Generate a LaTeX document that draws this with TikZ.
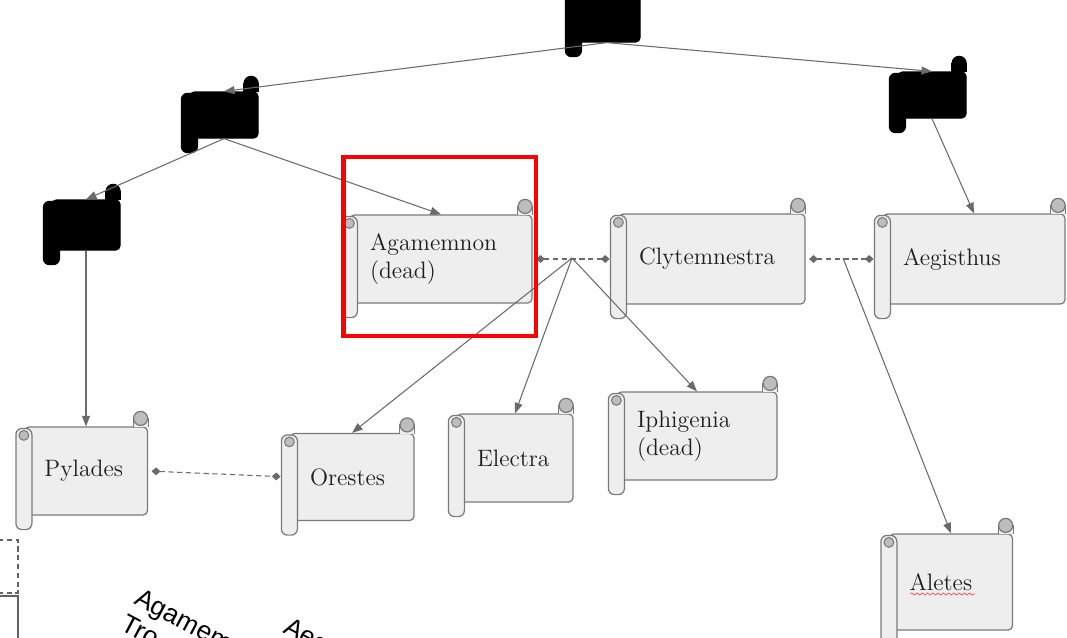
\documentclass[tikz,border=0pt]{standalone}
\usepackage{fontspec}
\usetikzlibrary{arrows.meta,decorations.pathmorphing}
\newfontfamily\tagfont{Liberation Sans}
\definecolor{scrollfill}{HTML}{EEEEEE}
\definecolor{scrollline}{HTML}{7A7A7A}
\definecolor{curlfill}{HTML}{BDBDBD}
\definecolor{linegray}{HTML}{6A6A6A}
\definecolor{textdark}{HTML}{1E1E1E}
\definecolor{markred}{HTML}{FF0000}
\tikzstyle{person} = [draw=scrollline, fill=scrollfill, rounded corners=2.5pt, line width=0.7pt, inner xsep=0pt, inner ysep=0pt, align=left, text=textdark, font=\fontsize{13.5}{16}\selectfont]
\tikzstyle{hidden} = [person, draw=black, fill=black]
\tikzstyle{child} = [draw=linegray, line width=0.6pt, -{Triangle[length=6pt,width=4.5pt]}]
\tikzstyle{couple} = [draw=linegray, line width=0.6pt, dash pattern=on 3pt off 2pt, {Diamond[length=5pt,width=4.5pt]}-{Diamond[length=5pt,width=4.5pt]}]
\tikzstyle{tag} = [inner sep=0pt, text=black, font=\tagfont\fontsize{15}{16}\selectfont]
\tikzset{scrollsize/.style 2 args={minimum width=#1*0.02cm, minimum height=#2*0.02cm, text width=#1*0.02cm-0.8cm}}
% rolled edges of a scroll: node, fill, line, curl
\newcommand{\rolls}[4]{%
  \filldraw[draw=#3, fill=#2, line width=0.7pt] ([shift={(-15,1)}]#1.north east) -- ([shift={(-15,-8)}]#1.north east) -- ([shift={(0,-8)}]#1.north east) -- ([shift={(0,1)}]#1.north east);
  \filldraw[draw=#3, fill=#4, line width=0.7pt] ([shift={(-7.5,-8)}]#1.north east) circle[radius=4pt];
  \filldraw[draw=#3, fill=#2, line width=0.7pt, rounded corners=3.5pt] ([shift={(-8,2)}]#1.north west) rectangle ([shift={(8,14)}]#1.south west);
  \filldraw[draw=#3, fill=#4, line width=0.6pt] ([shift={(0,9)}]#1.north west) circle[radius=2.8pt];
}

\begin{document}
\begin{tikzpicture}[x=0.02cm, y=-0.02cm]
    \useasboundingbox (0,0) rectangle (1067,637);
    \clip (0,0) rectangle (1067,637);
    \draw (607,16)  node[hidden, scrollsize={66}{52}] (T) {};
    \draw (224,115) node[hidden, scrollsize={68}{46}] (B2) {};
    \draw (86,225)  node[hidden, scrollsize={68}{50}] (B3) {};
    \draw (932,95)  node[hidden, scrollsize={68}{46}] (B4) {};
    \draw (441,259) node[person, scrollsize={182}{88}] (aga) {Agamemnon\\(dead)};
    \draw (712,259) node[person, scrollsize={186}{90}] (cly) {Clytemnestra};
    \draw (974,259) node[person, scrollsize={182}{90}] (aeg) {Aegisthus};
    \draw (86,471)  node[person, scrollsize={123}{88}] (pyl) {Pylades};
    \draw (352,477) node[person, scrollsize={124}{87}] (ore) {Orestes};
    \draw (515,458) node[person, scrollsize={116}{88}] (ele) {Electra};
    \draw (697,436) node[person, scrollsize={160}{88}] (iph) {Iphigenia\\(dead)};
    \draw (951,582) node[person, scrollsize={123}{96}] (ale) {Aletes};
    \rolls{T}{black}{black}{black}
    \rolls{B2}{black}{black}{black}
    \rolls{B3}{black}{black}{black}
    \rolls{B4}{black}{black}{black}
    \rolls{aga}{scrollfill}{scrollline}{curlfill}
    \rolls{cly}{scrollfill}{scrollline}{curlfill}
    \rolls{aeg}{scrollfill}{scrollline}{curlfill}
    \rolls{pyl}{scrollfill}{scrollline}{curlfill}
    \rolls{ore}{scrollfill}{scrollline}{curlfill}
    \rolls{ele}{scrollfill}{scrollline}{curlfill}
    \rolls{iph}{scrollfill}{scrollline}{curlfill}
    \rolls{ale}{scrollfill}{scrollline}{curlfill}
    \draw[red!70, line width=0.4pt, decorate, decoration={snake, amplitude=0.6pt, segment length=3pt}] ([shift={(-41,12)}]ale.center) -- ([shift={(24,12)}]ale.center);
    \coordinate (m1) at (572,258);
    \coordinate (m2) at (843,258);
    \draw[child] (T.south) -- (B2.north);
    \draw[child] (T.south) -- (B4.north);
    \draw[child] (B2.south) -- (B3.north);
    \draw[child] (B2.south) -- (aga.north);
    \draw[child] (B3.south) -- (pyl.north);
    \draw[child] (B4.south) -- (aeg.north);
    \draw[couple, shorten <=2pt, shorten >=5pt] (aga.east) -- (cly.west);
    \draw[couple, shorten <=2pt, shorten >=5pt] (cly.east) -- (aeg.west);
    \draw[couple, shorten <=2pt, shorten >=5pt] (pyl.east) -- (ore.west);
    \draw[child] (m1) -- (ore.north);
    \draw[child] (m1) -- (ele.north);
    \draw[child] (m1) -- (iph.north);
    \draw[child] (m2) -- (ale.north);
    % highlight
    \draw[markred, line width=2.3pt] (343.5,157) rectangle (536,336);
    % cut-off parts at the bottom left
    \draw[scrollline!80!black, line width=0.6pt, dash pattern=on 3pt off 2pt] (-2,540) -- (18,540) -- (18,593) -- (-2,593);
    \draw[scrollline!80!black, line width=0.6pt] (-2,596) -- (18,596) -- (18,645);
    \node[tag, anchor=base west, rotate=-28] (lblA) at (133,603) {Agamemnon};
    \node[tag, anchor=base west, rotate=-28] (lblB) at (119,629) {Tro};
    \node[tag, anchor=base west, rotate=-28] (lblC) at (282,632) {Aegisthus};
\end{tikzpicture}
\end{document}
